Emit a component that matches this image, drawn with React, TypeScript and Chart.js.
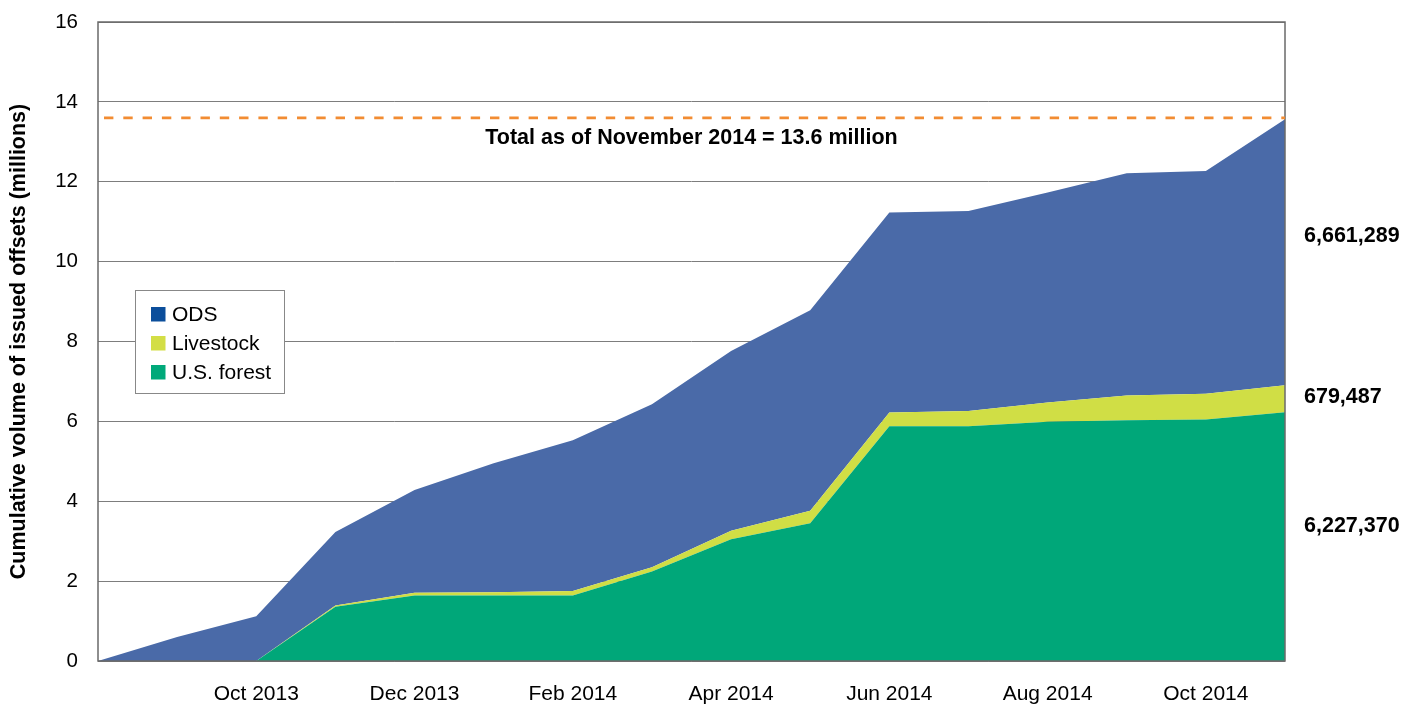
import React, { useEffect, useRef } from 'react';
import { Chart, registerables } from 'chart.js';

Chart.register(...registerables);

// ---------- data ----------
const months = [
  'Aug 2013', 'Sep 2013', 'Oct 2013', 'Nov 2013', 'Dec 2013', 'Jan 2014', 'Feb 2014', 'Mar 2014',
  'Apr 2014', 'May 2014', 'Jun 2014', 'Jul 2014', 'Aug 2014', 'Sep 2014', 'Oct 2014', 'Nov 2014',
];
const xTickLabels = ['Oct 2013', 'Dec 2013', 'Feb 2014', 'Apr 2014', 'Jun 2014', 'Aug 2014', 'Oct 2014'];

// volumes in millions of offsets (stacked: forest, livestock, ODS)
const forest = [0, 0, 0, 1.36, 1.64, 1.64, 1.64, 2.24, 3.05, 3.45, 5.88, 5.88, 5.99, 6.03, 6.05, 6.227];
const livestock = [0, 0, 0, 0.03, 0.07, 0.08, 0.11, 0.11, 0.21, 0.31, 0.34, 0.38, 0.48, 0.62, 0.64, 0.679];
const ods = [0, 0.6, 1.12, 1.84, 2.57, 3.23, 3.78, 4.08, 4.5, 5.02, 5.01, 5.01, 5.26, 5.56, 5.58, 6.661];

const seriesNames = ['U.S. forest', 'Livestock', 'ODS'];
const endLabels = ['6,227,370', '679,487', '6,661,289']; // forest, livestock, ODS
const totalLine = 13.6;
const totalText = 'Total as of November 2014 = 13.6 million';
const yTitle = 'Cumulative volume of issued offsets (millions)';

// ---------- styles ----------
const FONT = '"Liberation Sans", Arial, Helvetica, sans-serif';
const fillColors = ['#00A779', '#D0DE45', '#4A6AA8'];
const legendColors = ['#00A97A', '#D3DE45', '#0B4E9B'];

const overlayPlugin = {
  id: 'overlay',
  afterDatasetsDraw(chart: any) {
    const { ctx, chartArea, scales } = chart;
    const y = scales.y;
    ctx.save();

    // plot border
    ctx.strokeStyle = '#6a6a6a';
    ctx.lineWidth = 1.5;
    ctx.strokeRect(chartArea.left, chartArea.top, chartArea.right - chartArea.left, chartArea.bottom - chartArea.top);

    // total dashed line
    const ty = y.getPixelForValue(totalLine);
    ctx.strokeStyle = '#F28C32';
    ctx.lineWidth = 2.6;
    ctx.setLineDash([9.4, 9.9]);
    ctx.beginPath();
    ctx.moveTo(chartArea.left + 6, ty);
    ctx.lineTo(chartArea.right, ty);
    ctx.stroke();
    ctx.setLineDash([]);

    // total text
    ctx.fillStyle = '#000';
    ctx.font = `bold 21.5px ${FONT}`;
    ctx.textAlign = 'center';
    ctx.textBaseline = 'middle';
    ctx.fillText(totalText, (chartArea.left + chartArea.right) / 2, ty + 20);

    // end labels
    const labelPos = [3.38, 6.6, 10.64];
    ctx.textAlign = 'left';
    ctx.font = `bold 21.5px ${FONT}`;
    endLabels.forEach((t, i) => {
      ctx.fillText(t, chartArea.right + 19, y.getPixelForValue(labelPos[i]));
    });

    // legend box
    const bx = 135, by = 290, bw = 149, bh = 103;
    ctx.fillStyle = '#fff';
    ctx.fillRect(bx, by, bw, bh);
    ctx.strokeStyle = '#888';
    ctx.lineWidth = 1;
    ctx.strokeRect(bx + 0.5, by + 0.5, bw, bh);
    ctx.font = `21px ${FONT}`;
    ctx.textBaseline = 'middle';
    const order = [2, 1, 0];
    order.forEach((di, row) => {
      const cy = 314 + row * 29;
      ctx.fillStyle = legendColors[di];
      ctx.fillRect(151, cy - 7, 14.5, 14.5);
      ctx.fillStyle = '#000';
      ctx.fillText(seriesNames[di], 172, cy + 1);
    });

    ctx.restore();
  },
};

export default function App() {
  const ref = useRef<HTMLCanvasElement>(null);

  useEffect(() => {
    if (!ref.current) return;
    const data = [forest, livestock, ods];
    const chart = new Chart(ref.current, {
      type: 'line',
      data: {
        labels: months,
        datasets: data.map((d, i) => ({
          label: seriesNames[i],
          data: d,
          backgroundColor: fillColors[i],
          borderColor: fillColors[i],
          borderWidth: 0,
          pointRadius: 0,
          tension: 0,
          fill: i === 0 ? 'origin' : '-1',
        })),
      },
      options: {
        responsive: false,
        animation: false,
        devicePixelRatio: 1,
        layout: { padding: { top: 22, right: 132, left: 0, bottom: 0 } },
        plugins: { legend: { display: false }, tooltip: { enabled: false }, title: { display: false } },
        scales: {
          x: {
            type: 'category',
            offset: false,
            grid: { display: false },
            border: { display: false },
            ticks: {
              autoSkip: false,
              maxRotation: 0,
              padding: 13,
              color: '#000',
              font: { family: FONT, size: 21 },
              callback: (_v: any, idx: number) => (xTickLabels.includes(months[idx]) ? months[idx] : ''),
            },
            afterFit: (s: any) => { s.height = 43; },
          },
          y: {
            stacked: true,
            min: 0,
            max: 16,
            grid: { color: '#7d7d7d', lineWidth: 1, drawTicks: false },
            border: { display: false },
            ticks: {
              stepSize: 2,
              padding: 20,
              color: '#000',
              font: { family: FONT, size: 20.5 },
            },
            title: {
              display: true,
              text: yTitle,
              color: '#000',
              font: { family: FONT, size: 21.5, weight: 'bold' },
              padding: { top: 6, bottom: 0 },
            },
            afterFit: (s: any) => {
              s.width = 98;
              s.paddingTop = 0;
              s.paddingBottom = 0;
            },
          },
        },
      },
      plugins: [overlayPlugin],
    });
    return () => chart.destroy();
  }, []);

  return (
    <div style={{ position: 'absolute', left: 0, top: 0, width: 1417, height: 704, background: '#fff' }}>
      <canvas ref={ref} width={1417} height={704} style={{ display: 'block', width: 1417, height: 704 }} />
    </div>
  );
}
